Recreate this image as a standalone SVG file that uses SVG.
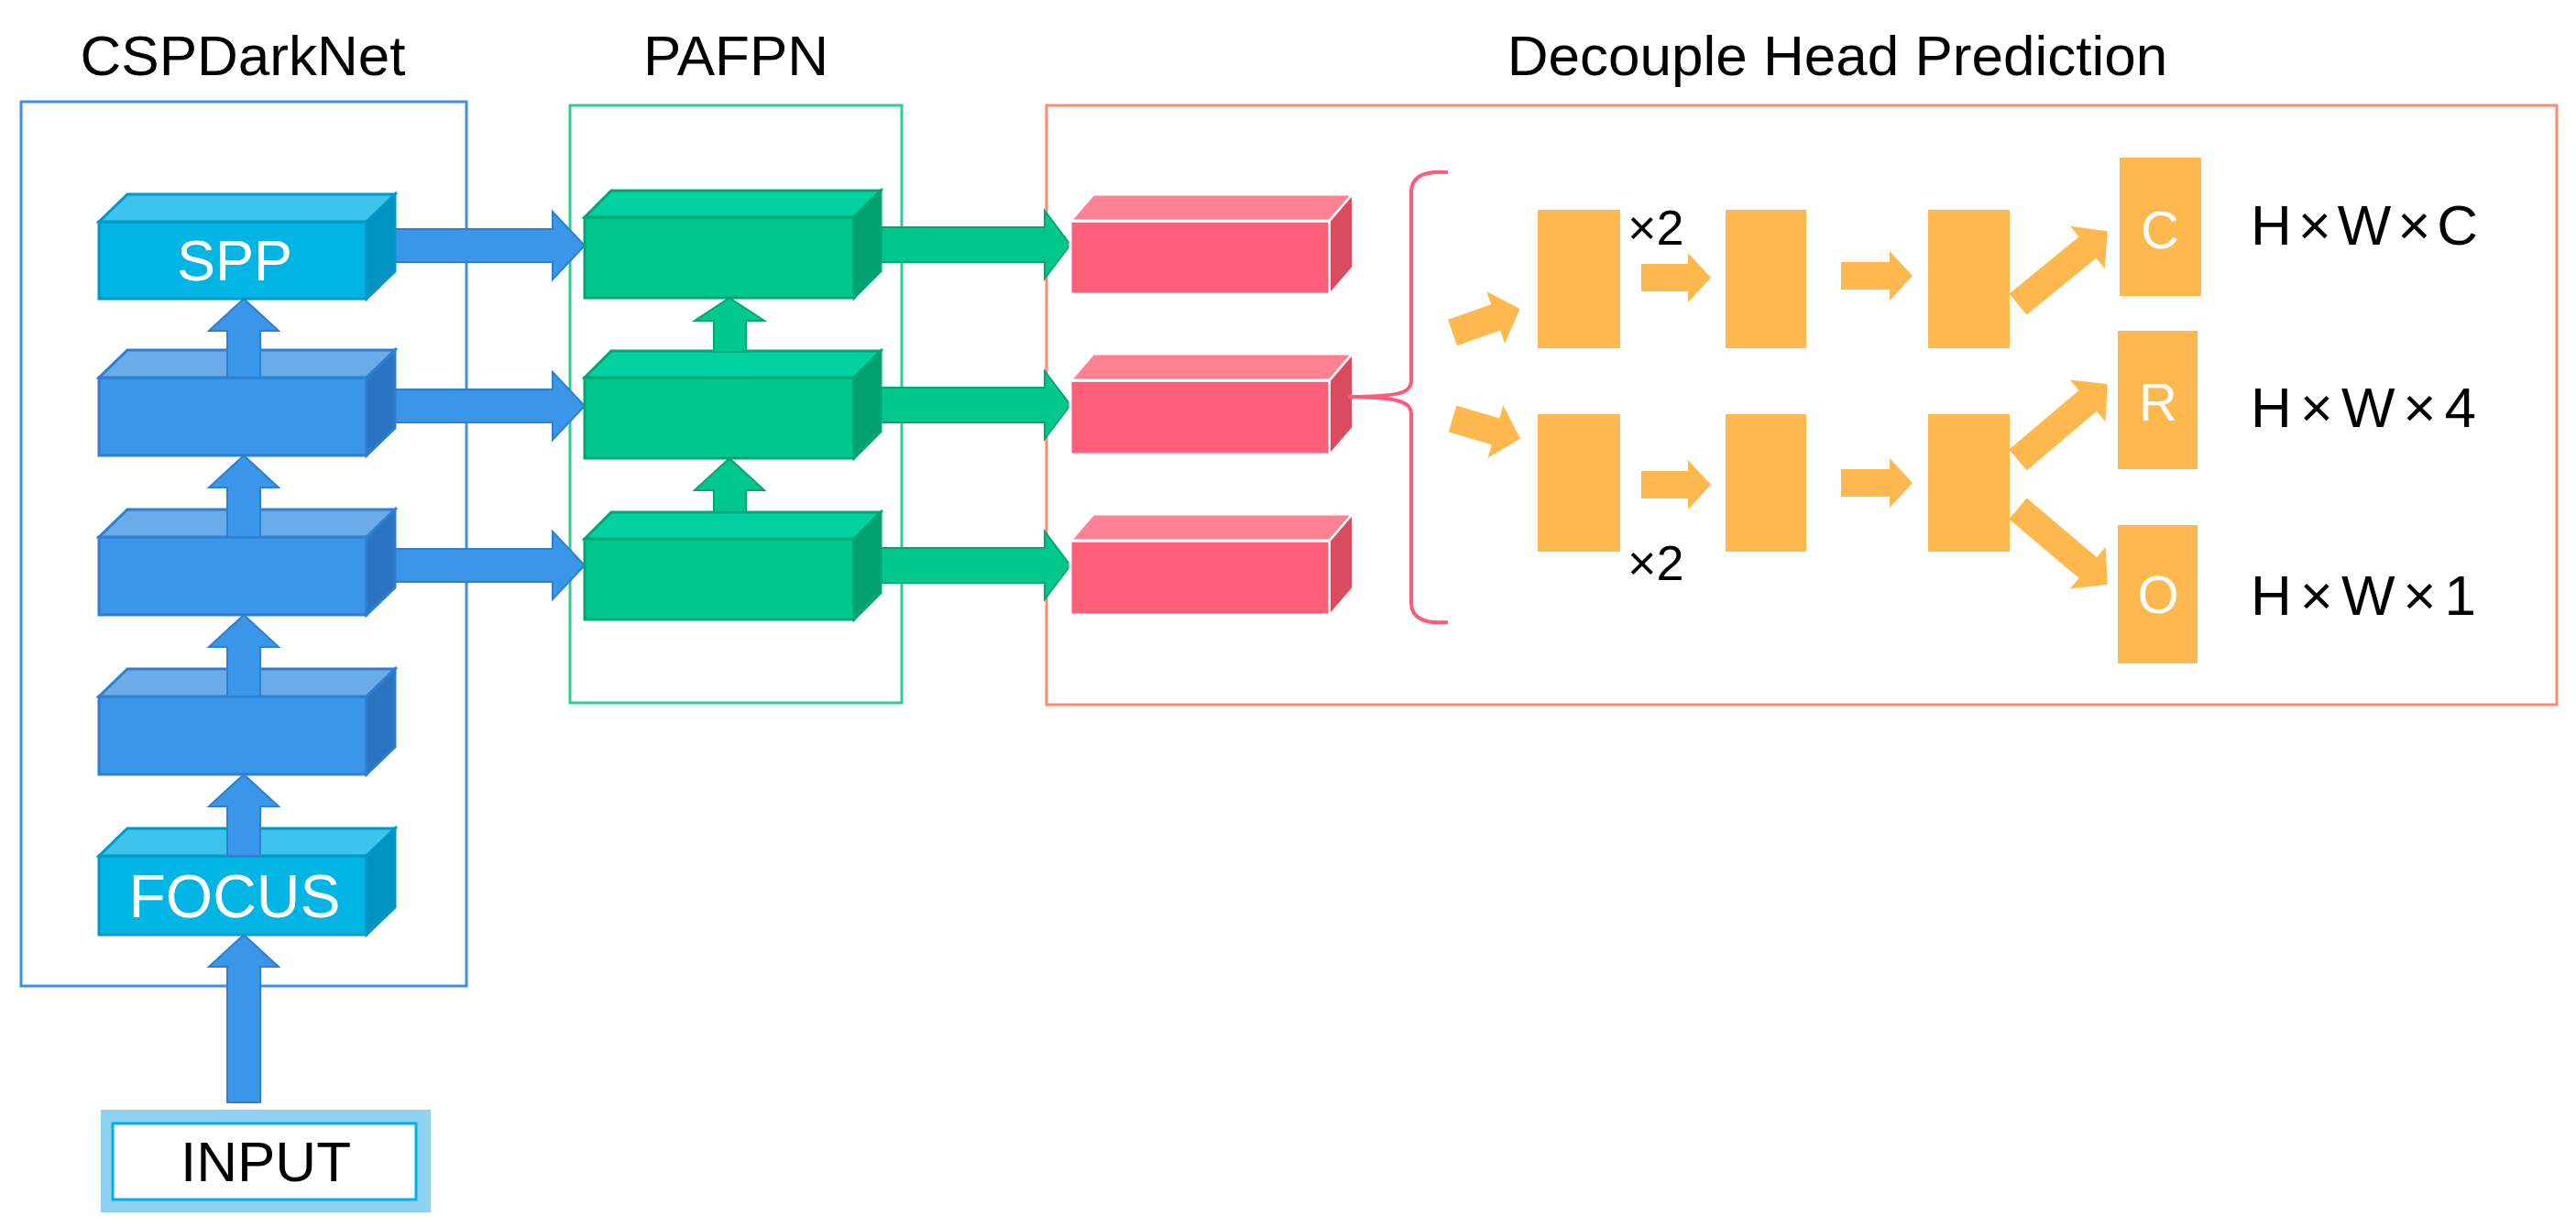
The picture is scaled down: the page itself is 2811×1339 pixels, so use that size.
<svg xmlns="http://www.w3.org/2000/svg" width="2811" height="1339" viewBox="0 0 2811 1339">
<style>
text{font-family:"Liberation Sans",Arial,sans-serif}
.t{font-size:62px;fill:#000;text-anchor:middle}
.w{fill:#fff;text-anchor:middle}
.bf{fill:#3a96e8;stroke:#2f7fd0;stroke-width:3}
.bt{fill:#6aabe9;stroke:#2f7fd0;stroke-width:3}
.bs{fill:#2b74bf;stroke:#2f7fd0;stroke-width:3}
.cf{fill:#00b4e4;stroke:#0098c8;stroke-width:3}
.ct{fill:#3cc4ec;stroke:#0098c8;stroke-width:3}
.cs{fill:#0093c0;stroke:#0098c8;stroke-width:3}
.gf{fill:#00c78c;stroke:#00a678;stroke-width:3}
.gt{fill:#00d3a0;stroke:#00a678;stroke-width:3}
.gs{fill:#00a070;stroke:#00a678;stroke-width:3}
.pf{fill:#ff5f78;stroke:#fff;stroke-width:3}
.pt{fill:#ff8192;stroke:#fff;stroke-width:3}
.ps{fill:#d94c60;stroke:#fff;stroke-width:2}
.ba{fill:#3a96e8;stroke:#2f7fd0;stroke-width:2}
.ga{fill:#00c78c;stroke:#00a678;stroke-width:2}
.o{fill:#ffb84d}
</style>
<rect width="2811" height="1339" fill="#fff"/>
<g id="titles">
<text class="t" x="265" y="82">CSPDarkNet</text>
<text class="t" x="803" y="82">PAFPN</text>
<text class="t" x="2005" y="82">Decouple Head Prediction</text>
</g>
<g id="frames" fill="none" stroke-width="3">
<rect x="23" y="111" width="486" height="965" stroke="#3d8fe0"/>
<rect x="622" y="115" width="362" height="652" stroke="#2ecc8f"/>
<rect x="1142" y="115" width="1648" height="654" stroke="#ff8a70"/>
</g>
<g id="connectors">
<path class="ba" d="M430,250 H603 V231 L638,268 L603,305 V286 H430 Z"/>
<path class="ba" d="M430,425 H603 V406 L638,443 L603,480 V461 H430 Z"/>
<path class="ba" d="M430,599 H603 V580 L638,617 L603,654 V635 H430 Z"/>
<path class="ga" d="M960,248 H1140 V230 L1168,267 L1140,304 V286 H960 Z"/>
<path class="ga" d="M960,423 H1140 V405 L1168,442 L1140,479 V461 H960 Z"/>
<path class="ga" d="M960,598 H1140 V580 L1168,617 L1140,654 V636 H960 Z"/>
</g>
<g id="cspdarknet">
<g id="spp"><rect class="cf" x="108" y="242" width="292" height="84"/><polygon class="ct" points="108,242 139,212 431,212 400,242"/><polygon class="cs" points="400,242 431,212 431,296 400,326"/><text class="w" x="256" y="306" font-size="63">SPP</text></g>
<g id="b2"><rect class="bf" x="108" y="412" width="292" height="85"/><polygon class="bt" points="108,412 139,382 431,382 400,412"/><polygon class="bs" points="400,412 431,382 431,467 400,497"/></g>
<g id="b3"><rect class="bf" x="108" y="586" width="292" height="85"/><polygon class="bt" points="108,586 139,556 431,556 400,586"/><polygon class="bs" points="400,586 431,556 431,641 400,671"/></g>
<g id="b4"><rect class="bf" x="108" y="760" width="292" height="85"/><polygon class="bt" points="108,760 139,730 431,730 400,760"/><polygon class="bs" points="400,760 431,730 431,815 400,845"/></g>
<g id="focus"><rect class="cf" x="108" y="934" width="292" height="86"/><polygon class="ct" points="108,934 139,904 431,904 400,934"/><polygon class="cs" points="400,934 431,904 431,990 400,1020"/><text class="w" x="256" y="1001" font-size="66">FOCUS</text></g>
<g id="input"><rect x="110" y="1211" width="360" height="112" fill="#8fd3f4"/><rect x="123" y="1226" width="331" height="83" fill="#fff" stroke="#00b0e6" stroke-width="3"/><text class="t" x="290" y="1289">INPUT</text></g>
<g id="up-arrows">
<path class="ba" d="M266,326 L304,361 H284 V412 H248 V361 H228 Z"/>
<path class="ba" d="M266,497 L304,532 H284 V586 H248 V532 H228 Z"/>
<path class="ba" d="M266,671 L304,706 H284 V760 H248 V706 H228 Z"/>
<path class="ba" d="M266,845 L304,880 H284 V934 H248 V880 H228 Z"/>
<path class="ba" d="M266,1020 L304,1055 H284 V1203 H248 V1055 H228 Z"/>
</g>
</g>
<g id="pafpn">
<g id="g1"><rect class="gf" x="638" y="237" width="294" height="88"/><polygon class="gt" points="638,237 667,208 961,208 932,237"/><polygon class="gs" points="932,237 961,208 961,296 932,325"/></g>
<g id="g2"><rect class="gf" x="638" y="412" width="294" height="88"/><polygon class="gt" points="638,412 667,383 961,383 932,412"/><polygon class="gs" points="932,412 961,383 961,471 932,500"/></g>
<g id="g3"><rect class="gf" x="638" y="588" width="294" height="88"/><polygon class="gt" points="638,588 667,559 961,559 932,588"/><polygon class="gs" points="932,588 961,559 961,647 932,676"/></g>
<path class="ga" d="M796,325 L834,350 H814 V384 H779 V350 H758 Z"/>
<path class="ga" d="M796,500 L834,535 H814 V559 H779 V535 H758 Z"/>
</g>
<g id="head">
<g id="p1"><rect class="pf" x="1168" y="241" width="283" height="80"/><polygon class="pt" points="1168,241 1193,212 1476,212 1451,241"/><polygon class="ps" points="1451,241 1476,212 1476,292 1451,321"/></g>
<g id="p2"><rect class="pf" x="1168" y="415" width="283" height="81"/><polygon class="pt" points="1168,415 1193,386 1476,386 1451,415"/><polygon class="ps" points="1451,415 1476,386 1476,467 1451,496"/></g>
<g id="p3"><rect class="pf" x="1168" y="590" width="283" height="81"/><polygon class="pt" points="1168,590 1193,561 1476,561 1451,590"/><polygon class="ps" points="1451,590 1476,561 1476,642 1451,671"/></g>
<path id="brace" d="M1580,188 C1555,186 1540,192 1540,210 V415 C1540,428 1530,433 1471,433 C1530,433 1540,440 1540,452 V658 C1540,675 1555,681 1580,679" fill="none" stroke="#ff5a78" stroke-width="4"/>
<g id="orange" class="o">
<rect x="1678" y="229" width="90" height="151"/><rect x="1678" y="452" width="90" height="150"/>
<rect x="1883" y="229" width="88" height="151"/><rect x="1883" y="452" width="88" height="150"/>
<rect x="2104" y="229" width="89" height="151"/><rect x="2104" y="452" width="89" height="150"/>
<rect x="2313" y="172" width="89" height="151"/><rect x="2311" y="361" width="87" height="151"/><rect x="2311" y="573" width="87" height="151"/>
</g>
<g id="orange-arrows" class="o">
<path transform="translate(1585,363) rotate(-19.4)" d="M0,-15 H50 V-30 L78,0 L50,30 V15 H0 Z"/>
<path transform="translate(1585,457) rotate(16.5)" d="M0,-15 H49 V-30 L77,0 L49,30 V15 H0 Z"/>
<path transform="translate(1791,303)" d="M0,-15 H51 V-27 L76,0 L51,27 V15 H0 Z"/>
<path transform="translate(1791,529)" d="M0,-15 H51 V-27 L76,0 L51,27 V15 H0 Z"/>
<path transform="translate(2009,301)" d="M0,-15 H53 V-27 L78,0 L53,27 V15 H0 Z"/>
<path transform="translate(2009,527)" d="M0,-15 H53 V-27 L78,0 L53,27 V15 H0 Z"/>
<path transform="translate(2202,332) rotate(-39.2)" d="M0,-15 H98 V-30 L126,0 L98,30 V15 H0 Z"/>
<path transform="translate(2202,502) rotate(-40.3)" d="M0,-15 H100 V-30 L128,0 L100,30 V15 H0 Z"/>
<path transform="translate(2202,555) rotate(40.3)" d="M0,-15 H100 V-30 L128,0 L100,30 V15 H0 Z"/>
</g>
<g id="labels">
<text x="1776" y="267" font-size="54">×2</text>
<text x="1776" y="633" font-size="54">×2</text>
<text class="w" x="2357" y="271" font-size="58">C</text>
<text class="w" x="2355" y="459" font-size="58">R</text>
<text class="w" x="2355" y="669" font-size="58">O</text>
<text x="2456" y="267" font-size="62" textLength="248">H×W×C</text>
<text x="2456" y="466" font-size="62" textLength="246">H×W×4</text>
<text x="2456" y="671" font-size="62" textLength="246">H×W×1</text>
</g>
</g>
</svg>
